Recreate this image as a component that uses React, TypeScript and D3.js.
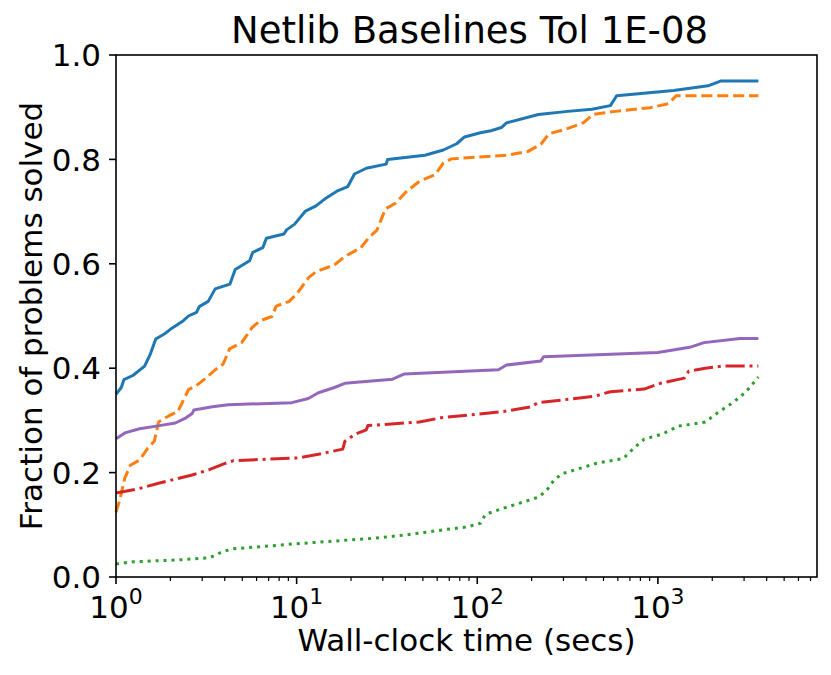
import * as d3 from "d3";

const W = 831;
const H = 675;
const margin = { top: 55, right: 14, bottom: 98, left: 116 };

const TITLE = "Netlib Baselines Tol 1E-08";
const X_LABEL = "Wall-clock time (secs)";
const Y_LABEL = "Fraction of problems solved";

const X_MIN = 1;
const X_MAX = 7600;
const xMajorTicks = [1, 10, 100, 1000];
const xTickExponents = ["0", "1", "2", "3"];
const yTicks = [0, 0.2, 0.4, 0.6, 0.8, 1.0];

// [time (secs), fraction solved]
const blueSeries: [number, number][] = [
  [1, 0.35], [1.07, 0.363], [1.106, 0.378], [1.24, 0.386], [1.44, 0.404],
  [1.54, 0.425], [1.66, 0.456], [1.86, 0.466], [1.99, 0.474], [2.36, 0.491],
  [2.52, 0.5], [2.79, 0.507], [2.89, 0.518], [3.24, 0.528], [3.54, 0.552],
  [4.27, 0.561], [4.57, 0.589], [5.49, 0.606], [5.72, 0.622], [6.5, 0.631],
  [6.8, 0.649], [8.5, 0.657], [8.8, 0.665], [9.75, 0.676], [11.2, 0.701],
  [12.8, 0.711], [14.3, 0.724], [16.7, 0.739], [19.2, 0.748], [20.9, 0.772],
  [24.3, 0.783], [31.3, 0.791], [31.9, 0.8], [51.3, 0.808], [64.9, 0.818],
  [76.9, 0.83], [85, 0.843], [104, 0.851], [119, 0.855], [136, 0.861],
  [145, 0.87], [218, 0.886], [317, 0.892], [431, 0.896], [546, 0.903],
  [591, 0.922], [1220, 0.932], [1895, 0.941], [2220, 0.95], [3600, 0.95],
];

const orangeSeries: [number, number][] = [
  [1, 0.124], [1.05, 0.148], [1.12, 0.19], [1.2, 0.214], [1.35, 0.224],
  [1.5, 0.247], [1.63, 0.26], [1.72, 0.297], [1.97, 0.309], [2.2, 0.317],
  [2.52, 0.359], [2.79, 0.367], [3.2, 0.383], [3.54, 0.397], [3.92, 0.408],
  [4.25, 0.437], [4.96, 0.449], [5.67, 0.478], [6.28, 0.491], [7.3, 0.499],
  [7.7, 0.519], [9.1, 0.528], [10.1, 0.544], [11.6, 0.573], [12.8, 0.585],
  [16.2, 0.598], [18.5, 0.614], [22.7, 0.631], [25.2, 0.651], [27.8, 0.664],
  [31, 0.705], [35.2, 0.716], [40.4, 0.738], [47.8, 0.758], [58.5, 0.771],
  [64.9, 0.793], [71.8, 0.801], [145, 0.808], [190, 0.815], [225, 0.829],
  [249, 0.849], [303, 0.857], [386, 0.87], [437, 0.886], [580, 0.892],
  [904, 0.899], [1150, 0.907], [1262, 0.922], [3600, 0.922],
];

const purpleSeries: [number, number][] = [
  [1, 0.265], [1.12, 0.276], [1.35, 0.284], [1.74, 0.29], [2.13, 0.295],
  [2.44, 0.305], [2.64, 0.313], [2.7, 0.32], [3.42, 0.326], [4.19, 0.33],
  [9.4, 0.334], [11.6, 0.342], [13.2, 0.353], [16.2, 0.363], [18.5, 0.371],
  [34, 0.379], [39.5, 0.389], [131, 0.397], [145, 0.406], [225, 0.414],
  [233, 0.422], [1000, 0.43], [1500, 0.44], [1800, 0.449], [2850, 0.457],
  [3600, 0.457],
];

const redSeries: [number, number][] = [
  [1, 0.161], [1.33, 0.169], [1.74, 0.18], [2.61, 0.195], [3.31, 0.206],
  [4.05, 0.218], [4.48, 0.223], [10.1, 0.228], [13.2, 0.235], [18, 0.245],
  [18.5, 0.26], [21.2, 0.274], [24.3, 0.282], [24.8, 0.29], [47.8, 0.297],
  [63, 0.305], [140, 0.317], [197, 0.326], [218, 0.334], [443, 0.346],
  [546, 0.355], [840, 0.36], [1030, 0.371], [1400, 0.381], [1480, 0.394],
  [1830, 0.4], [2270, 0.404], [3600, 0.404],
];

const greenSeries: [number, number][] = [
  [1, 0.025], [1.24, 0.029], [2.28, 0.033], [3.31, 0.037], [3.92, 0.049],
  [4.48, 0.054], [9.4, 0.063], [26, 0.074], [39, 0.08], [67, 0.091],
  [88, 0.096], [104, 0.103], [111, 0.12], [140, 0.132], [178, 0.143],
  [218, 0.153], [241, 0.165], [265, 0.185], [295, 0.198], [386, 0.21],
  [458, 0.218], [643, 0.227], [736, 0.247], [840, 0.264], [1060, 0.274],
  [1300, 0.289], [1830, 0.297], [2110, 0.313], [2600, 0.334], [3060, 0.354],
  [3600, 0.383],
];

const LW = 3;
const seriesList = [
  { data: blueSeries, color: "#1f77b4", dash: "" },
  { data: orangeSeries, color: "#ff7f0e", dash: `${3.7 * LW},${1.6 * LW}` },
  { data: greenSeries, color: "#2ca02c", dash: `${1 * LW},${1.65 * LW}` },
  { data: redSeries, color: "#d62728", dash: `${6.4 * LW},${1.6 * LW},${1 * LW},${1.6 * LW}` },
  { data: purpleSeries, color: "#9467bd", dash: "" },
];

const FONT = "DejaVu Sans";
const FS = 31;

export default function App() {
  const x = d3
    .scaleLog()
    .domain([X_MIN, X_MAX])
    .range([margin.left, W - margin.right]);
  const y = d3
    .scaleLinear()
    .domain([0, 1])
    .range([H - margin.bottom, margin.top]);

  const line = d3
    .line<[number, number]>()
    .x((d) => x(d[0]))
    .y((d) => y(d[1]));

  const minorTicks: number[] = [];
  for (let dec = 1; dec <= 1000; dec *= 10) {
    for (let k = 2; k <= 9; k++) {
      const v = k * dec;
      if (v < X_MAX) minorTicks.push(v);
    }
  }

  const x0 = margin.left;
  const x1 = W - margin.right;
  const y0 = H - margin.bottom;
  const y1 = margin.top;

  return (
    <svg
      width={W}
      height={H}
      style={{ position: "fixed", left: 0, top: 0, display: "block", background: "#fff" }}
      fontFamily={FONT}
    >
      <text x={(x0 + x1) / 2 + 3} y={43} textAnchor="middle" fontSize={37} fill="#000">
        {TITLE}
      </text>

      <g>
        {seriesList.map((s, i) => (
          <path
            key={i}
            d={line(s.data) ?? ""}
            fill="none"
            stroke={s.color}
            strokeWidth={LW}
            strokeDasharray={s.dash || undefined}
            strokeLinejoin="round"
          />
        ))}
      </g>

      {/* y axis */}
      {yTicks.map((t) => (
        <g key={t}>
          <line x1={x0 - 7} x2={x0} y1={y(t)} y2={y(t)} stroke="#000" strokeWidth={1.6} />
          <text
            x={x0 - 15}
            y={y(t)}
            dy="0.36em"
            textAnchor="end"
            fontSize={FS}
            fill="#000"
          >
            {t.toFixed(1)}
          </text>
        </g>
      ))}

      {/* x axis */}
      {minorTicks.map((t) => (
        <line key={t} x1={x(t)} x2={x(t)} y1={y0} y2={y0 + 4} stroke="#000" strokeWidth={1.2} />
      ))}
      {xMajorTicks.map((t, i) => (
        <g key={t}>
          <line x1={x(t)} x2={x(t)} y1={y0} y2={y0 + 7} stroke="#000" strokeWidth={1.6} />
          <text x={x(t)} y={618} textAnchor="middle" fontSize={FS} fill="#000">
            10
            <tspan fontSize={22} dy={-14}>
              {xTickExponents[i]}
            </tspan>
          </text>
        </g>
      ))}

      <rect
        x={x0}
        y={y1}
        width={x1 - x0}
        height={y0 - y1}
        fill="none"
        stroke="#000"
        strokeWidth={1.6}
      />

      <text x={(x0 + x1) / 2} y={651} textAnchor="middle" fontSize={FS} fill="#000">
        {X_LABEL}
      </text>
      <text
        transform={`translate(42,${(y0 + y1) / 2}) rotate(-90)`}
        textAnchor="middle"
        fontSize={FS}
        fill="#000"
      >
        {Y_LABEL}
      </text>
    </svg>
  );
}
